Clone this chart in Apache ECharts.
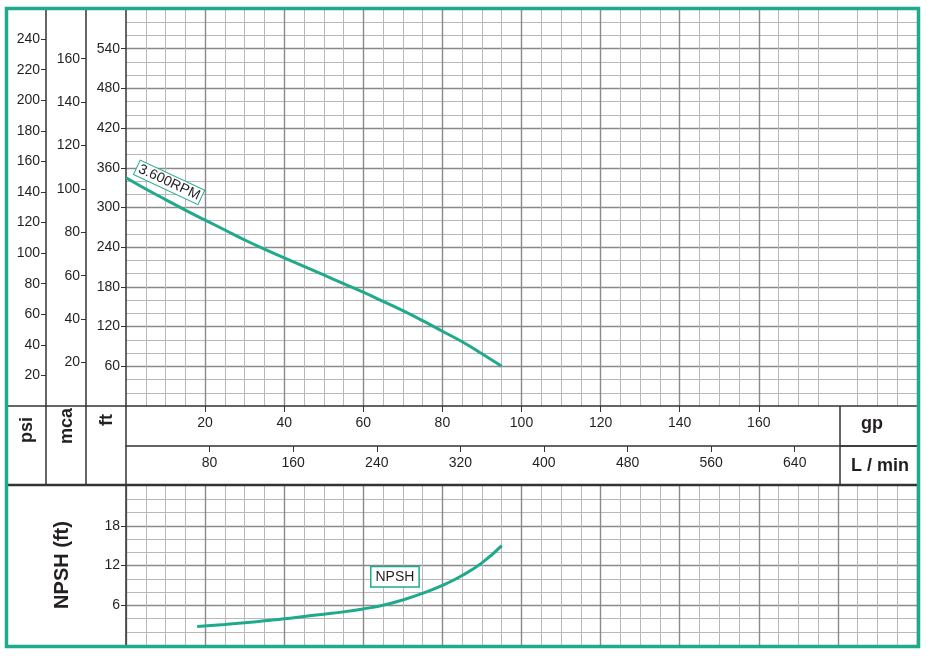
<!DOCTYPE html>
<html>
<head>
<meta charset="utf-8">
<script src="https://cdn.jsdelivr.net/npm/echarts@6/dist/echarts.min.js"></script>
<style>
  html, body { margin: 0; padding: 0; background: #fff; }
  #chart { width: 927px; height: 657px; }
</style>
</head>
<body>
<div id="chart"></div>
<script>
// pump curve 3.600 RPM, flow in gpm
const headFlow = [0, 5, 10, 15, 20, 25, 30, 35, 40, 45, 50, 55, 60, 65, 70, 75, 80, 85, 90, 95];
const headFt = [345, 328, 312, 296, 281, 266, 251, 237, 224, 211, 198, 185, 172, 158, 144, 129, 113, 97, 79, 60];
const npshFlow = [18, 25, 30, 35, 40, 45, 50, 55, 60, 65, 70, 75, 80, 85, 90, 95];
const npshFt = [2.8, 3.1, 3.35, 3.65, 3.95, 4.3, 4.65, 5.0, 5.45, 6.0, 6.8, 7.8, 9.0, 10.5, 12.4, 15.0];

// tick labels
const psiTicks = [20, 40, 60, 80, 100, 120, 140, 160, 180, 200, 220, 240];
const mcaTicks = [20, 40, 60, 80, 100, 120, 140, 160];
const ftTicks = [60, 120, 180, 240, 300, 360, 420, 480, 540];
const gpmTicks = [20, 40, 60, 80, 100, 120, 140, 160];
const lminTicks = [80, 160, 240, 320, 400, 480, 560, 640];
const npshTicks = [6, 12, 18];

const GREEN = "#1fab8b";
const DARK = "#333";
const FONT = "Liberation Sans, Arial, sans-serif";
const FT_MAX = 600;
const GPM_MAX = 200;

const chart = echarts.init(document.getElementById("chart"));

const major = { show: true, lineStyle: { color: "#8a8a8a", width: 1.4 } };
const minor = { show: true, lineStyle: { color: "#b8b8b8", width: 1 } };
const tickLbl = { color: "#231f20", fontSize: 14, fontFamily: FONT };

function sideAxis(max, ticks, offset, extra) {
  return Object.assign({
    type: "value",
    gridIndex: 0,
    position: "left",
    offset: offset,
    min: 0,
    max: max,
    axisLine: { show: true, onZero: false, lineStyle: { color: DARK, width: 1.5 } },
    axisTick: { show: true, length: 5, customValues: ticks, lineStyle: { color: DARK } },
    axisLabel: Object.assign({ customValues: ticks, margin: 6 }, tickLbl),
    splitLine: { show: false },
  }, extra || {});
}

function line(x1, y1, x2, y2, w) {
  return { type: "line", shape: { x1, y1, x2, y2 }, style: { stroke: DARK, lineWidth: w || 1.5 }, z: 10 };
}
function boldText(txt, x, y, rot, size) {
  return {
    type: "text", x: x, y: y, rotation: rot,
    style: { text: txt, font: "bold " + (size || 18) + "px " + FONT, fill: "#231f20", align: "center", verticalAlign: "middle" },
    z: 10,
  };
}

const option = {
  animation: false,
  grid: [
    { left: 126, top: 9, width: 791, height: 397 },
    { left: 126, top: 486, width: 791, height: 159 },
  ],
  xAxis: [
    {
      type: "value", gridIndex: 0, min: 0, max: GPM_MAX, interval: 20, position: "bottom",
      axisLine: { show: true, onZero: false, lineStyle: { color: DARK, width: 1.5 } },
      axisTick: { show: true, length: 6, customValues: gpmTicks, lineStyle: { color: DARK } },
      axisLabel: Object.assign({ customValues: gpmTicks, margin: 10 }, tickLbl),
      splitLine: major,
      minorTick: { show: false, splitNumber: 4 },
      minorSplitLine: minor,
    },
    {
      type: "value", gridIndex: 0, min: 0, max: GPM_MAX * 3.785, position: "bottom", offset: 40,
      axisLine: { show: true, onZero: false, lineStyle: { color: DARK, width: 1.5 } },
      axisTick: { show: true, length: 6, customValues: lminTicks, lineStyle: { color: DARK } },
      axisLabel: Object.assign({ customValues: lminTicks, margin: 10 }, tickLbl),
      splitLine: { show: false },
    },
    {
      type: "value", gridIndex: 1, min: 0, max: GPM_MAX, interval: 20,
      axisLine: { show: false },
      axisTick: { show: false },
      axisLabel: { show: false },
      splitLine: major,
      minorTick: { show: false, splitNumber: 4 },
      minorSplitLine: minor,
    },
  ],
  yAxis: [
    sideAxis(FT_MAX, ftTicks, 0, {
      interval: 60,
      splitLine: major,
      minorTick: { show: false, splitNumber: 3 },
      minorSplitLine: minor,
    }),
    sideAxis(FT_MAX / 3.281, mcaTicks, 40),
    sideAxis(FT_MAX / 2.31, psiTicks, 80),
    {
      type: "value", gridIndex: 1, min: 0, max: 24, interval: 6,
      axisLine: { show: true, lineStyle: { color: DARK, width: 1.5 } },
      axisTick: { show: true, length: 5, customValues: npshTicks, lineStyle: { color: DARK } },
      axisLabel: Object.assign({ customValues: npshTicks, margin: 6 }, tickLbl),
      splitLine: major,
      minorTick: { show: false, splitNumber: 3 },
      minorSplitLine: minor,
    },
  ],
  series: [
    {
      type: "line",
      xAxisIndex: 0, yAxisIndex: 0,
      data: headFlow.map((q, i) => [q, headFt[i]]),
      smooth: 0.5, symbol: "none",
      lineStyle: { color: GREEN, width: 3 },
      z: 5,
      markPoint: {
        symbol: "rect", symbolSize: 0, silent: true,
        data: [{ coord: [10.9, 338] }],
        label: {
          show: true, position: "inside", formatter: "3.600RPM", rotate: -25,
          fontSize: 14, fontFamily: FONT, color: "#231f20",
          backgroundColor: "#fff", borderColor: GREEN, borderWidth: 1, padding: [1, 2, 0, 2],
        },
      },
    },
    {
      type: "line",
      xAxisIndex: 2, yAxisIndex: 3,
      data: npshFlow.map((q, i) => [q, npshFt[i]]),
      smooth: 0.5, symbol: "none",
      lineStyle: { color: GREEN, width: 3 },
      z: 5,
      markPoint: {
        symbol: "rect", symbolSize: 0, silent: true,
        data: [{ coord: [68, 10.3] }],
        label: {
          show: true, position: "inside", formatter: "NPSH",
          fontSize: 14, fontFamily: FONT, color: "#231f20",
          backgroundColor: "#fff", borderColor: GREEN, borderWidth: 1.5, padding: [3, 4, 2, 4],
        },
      },
    },
  ],
  graphic: [
    // table lines of the unit band
    line(7, 406, 126, 406),
    line(7, 485, 917, 485, 2.5),
    line(46, 406, 46, 485),
    line(86, 406, 86, 485),
    line(126, 406, 126, 485),
    line(840, 406, 840, 485),
    line(840, 446, 917, 446),
    boldText("psi", 27, 430, Math.PI / 2),
    boldText("mca", 67, 426, Math.PI / 2),
    boldText("ft", 107, 420, Math.PI / 2),
    boldText("gp", 872, 424, 0),
    boldText("L / min", 880, 466, 0),
    boldText("NPSH (ft)", 62, 565, Math.PI / 2, 20),
    // outer frame
    {
      type: "rect", shape: { x: 6.5, y: 8.5, width: 912, height: 638 },
      style: { fill: "none", stroke: GREEN, lineWidth: 3.5 }, z: 20,
    },
  ],
};

chart.setOption(option);
</script>
</body>
</html>
